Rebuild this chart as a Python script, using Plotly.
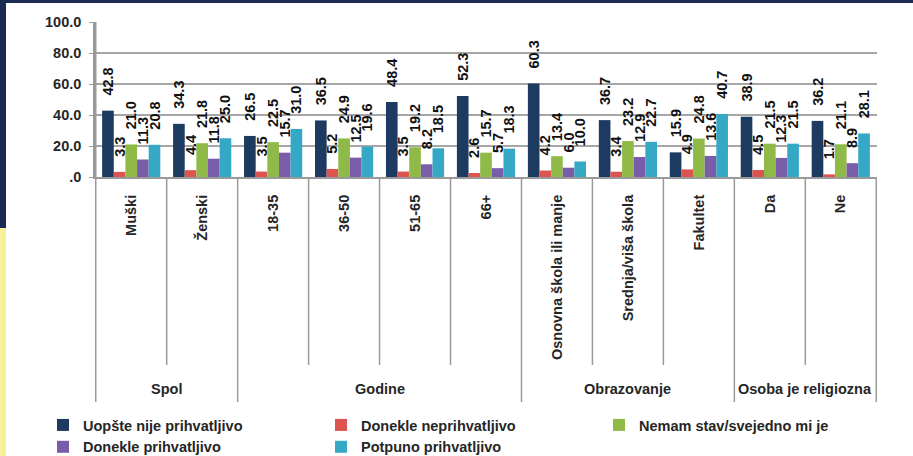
import plotly.graph_objects as go

# categories and their groups
categories = ['Muški', 'Ženski', '18-35', '36-50', '51-65', '66+',
              'Osnovna škola ili manje', 'Srednja/viša škola', 'Fakultet', 'Da', 'Ne']
groups = ['Spol', 'Godine', 'Obrazovanje', 'Osoba je religiozna']
group_sizes = [2, 4, 3, 2]

series_names = ['Uopšte nije prihvatljivo', 'Donekle neprihvatljivo',
                'Nemam stav/svejedno mi je', 'Donekle prihvatljivo', 'Potpuno prihvatljivo']

uopste_nije = [42.8, 34.3, 26.5, 36.5, 48.4, 52.3, 60.3, 36.7, 15.9, 38.9, 36.2]
donekle_neprihvatljivo = [3.3, 4.4, 3.5, 5.2, 3.5, 2.6, 4.2, 3.4, 4.9, 4.5, 1.7]
nemam_stav = [21.0, 21.8, 22.5, 24.9, 19.2, 15.7, 13.4, 23.2, 24.8, 21.5, 21.1]
donekle_prihvatljivo = [11.3, 11.8, 15.7, 12.5, 8.2, 5.7, 6.0, 12.9, 13.6, 12.3, 8.9]
potpuno = [20.8, 25.0, 31.0, 19.6, 18.5, 18.3, 10.0, 22.7, 40.7, 21.5, 28.1]

y_ticks = [0, 20, 40, 60, 80, 100]
y_ticktext = ['.0', '20.0', '40.0', '60.0', '80.0', '100.0']

colors = ['#1d3b60', '#dc5350', '#8fba48', '#7a5da8', '#35a8c6']

FONT = 'Arial, Liberation Sans, sans-serif'
TXT = '#262626'
NAVY = '#1b2a52'

W, H = 913, 456
L, R, T, B = 95, 36, 22, 279
PH = H - T - B
PW = W - L - R


def py(pix):
    # pixel row -> paper y
    return (H - B - pix) / PH


def px(pix):
    return (pix - L) / PW


fig = go.Figure()
all_series = [uopste_nije, donekle_neprihvatljivo, nemam_stav, donekle_prihvatljivo, potpuno]
for name, vals, col in zip(series_names, all_series, colors):
    fig.add_trace(go.Bar(
        x=categories, y=vals, name=name,
        marker=dict(color=col, line=dict(width=0)),
        text=['\u00a0\u00a0\u00a0' + f'{v:.1f}' for v in vals],
        textposition='outside', textangle=-90, constraintext='none',
        cliponaxis=False,
        textfont=dict(family=FONT, size=14.5, color='#111', weight='bold'),
    ))

shapes = []
# group boundaries and inner category dividers
bounds = [0]
for s in group_sizes:
    bounds.append(bounds[-1] + s)
for i in range(1, len(categories)):
    long_line = i in bounds
    shapes.append(dict(type='line', xref='x', yref='paper', x0=i - 0.5, x1=i - 0.5,
                       y0=0, y1=py(402 if long_line else 365),
                       line=dict(color='#9a9a9a', width=1.5)))
shapes.append(dict(type='line', xref='x', yref='paper', x0=-0.5, x1=-0.5,
                   y0=1, y1=py(402), line=dict(color='#9a9a9a', width=1.5)))
shapes.append(dict(type='line', xref='x', yref='paper', x0=len(categories) - 0.5,
                   x1=len(categories) - 0.5, y0=0, y1=py(402),
                   line=dict(color='#9a9a9a', width=1.5)))
# page frame
shapes += [
    dict(type='rect', xref='paper', yref='paper', x0=px(0), x1=px(W), y0=py(0), y1=py(3),
         fillcolor=NAVY, line=dict(width=0), layer='above'),
    dict(type='rect', xref='paper', yref='paper', x0=px(0), x1=px(6), y0=py(0), y1=py(228),
         fillcolor=NAVY, line=dict(width=0), layer='above'),
    dict(type='rect', xref='paper', yref='paper', x0=px(0), x1=px(6), y0=py(228), y1=py(H),
         fillcolor='#f5f29c', line=dict(width=0), layer='above'),
]

annotations = []
for g, a, b in zip(groups, bounds[:-1], bounds[1:]):
    annotations.append(dict(text=g, xref='x', yref='paper', x=(a + b - 1) / 2, y=py(389),
                            xanchor='center', yanchor='middle', showarrow=False,
                            font=dict(family=FONT, size=14.5, color=TXT, weight='bold')))

fig.update_layout(
    width=W, height=H,
    margin=dict(l=L, r=R, t=T, b=B, autoexpand=False),
    paper_bgcolor='white', plot_bgcolor='white',
    barmode='group', bargap=0.18, bargroupgap=0,
    font=dict(family=FONT, size=14.5, color=TXT, weight='bold'),
    shapes=shapes, annotations=annotations,
    legend=dict(orientation='h', x=px(43), xanchor='left', y=py(409), yanchor='top',
                entrywidth=233, entrywidthmode='pixels', itemwidth=30, tracegroupgap=0,
                font=dict(family=FONT, size=14.5, color=TXT, weight='bold'),
                bgcolor='rgba(0,0,0,0)'),
    xaxis=dict(type='category', tickangle=-90, showgrid=False, ticks='',
               showline=True, linecolor='#9a9a9a', linewidth=2,
               ticklabelstandoff=10,
               tickfont=dict(family=FONT, size=14.5, color=TXT, weight='bold')),
    yaxis=dict(range=[0, 100], tickvals=y_ticks, ticktext=y_ticktext,
               showgrid=True, gridcolor='#a6a6a6', gridwidth=1.5,
               showline=True, linecolor='#9a9a9a', linewidth=1.5,
               ticks='outside', ticklen=4, tickcolor='#9a9a9a', zeroline=False,
               ticklabelstandoff=5,
               tickfont=dict(family=FONT, size=14.5, color=TXT, weight='bold')),
)

page_js = (
    "document.body.style.margin='0';document.body.style.overflow='hidden';"
    "var bar=document.createElement('div');"
    "bar.style.cssText='position:fixed;left:0;top:0;width:100%;height:3px;background:" + NAVY + ";z-index:5';"
    "document.body.appendChild(bar);"
)
fig.write_html('out.html', config={'displayModeBar': False}, post_script=page_js)
